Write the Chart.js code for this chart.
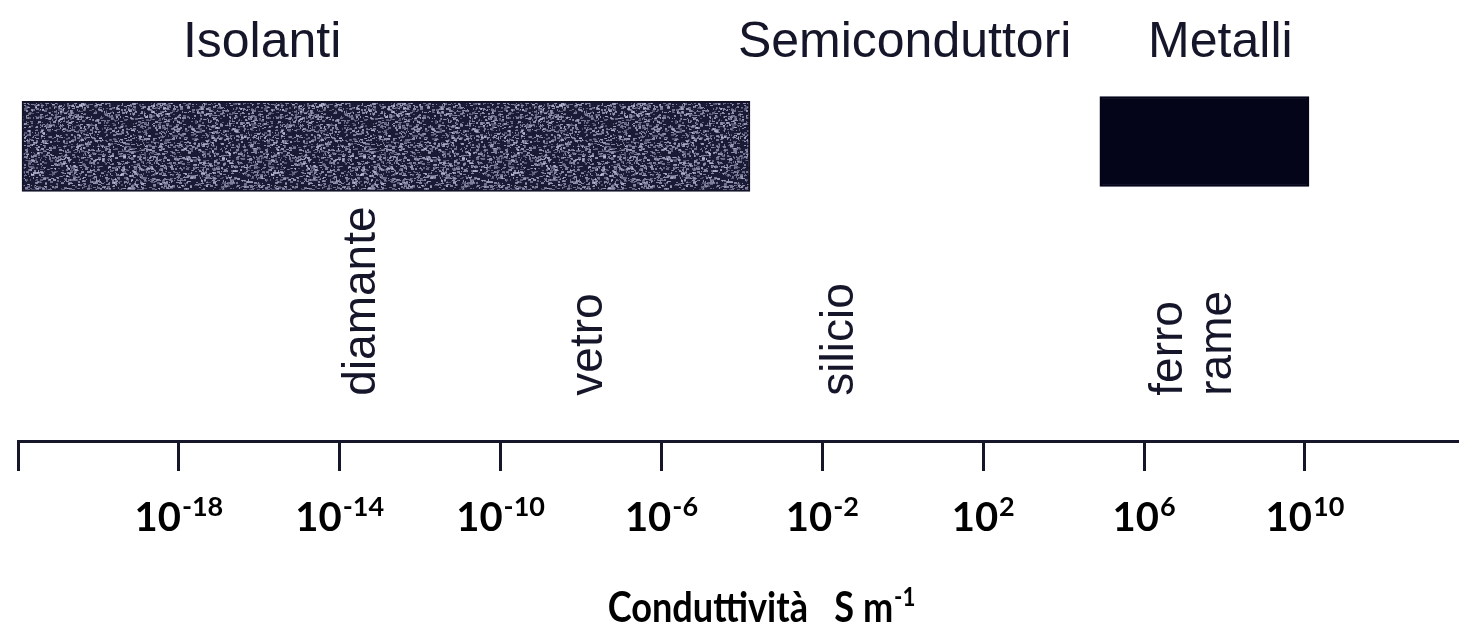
<!DOCTYPE html>
<html>
<head>
<meta charset="utf-8">
<script src="https://cdn.jsdelivr.net/npm/chart.js@4.4.1/dist/chart.umd.min.js"></script>
<style>
  html, body { margin: 0; padding: 0; background: #fff; }
  canvas { display: block; }
</style>
</head>
<body>
<canvas id="chart" width="1459" height="636"></canvas>
<script>
// Values are log10 of the conductivity (S/m)
const tickExponents = [-22, -18, -14, -10, -6, -2, 2, 6, 10];
const tickLabels = ['', '-18', '-14', '-10', '-6', '-2', '2', '6', '10'];
const bandNames = ['Isolanti', 'Metalli'];
const bandStart = [-21.9, 4.9];
const bandEnd = [-3.8, 10.1];
const classNames = ['Isolanti', 'Semiconduttori', 'Metalli'];
const classStart = [-17.9, -4.1, 6.1];
const materials = ['diamante', 'vetro', 'silicio', 'ferro', 'rame'];
const materialValues = [-13.45, -7.8, -1.55, 6.62, 7.85];
const axisTitle = 'Conduttività   S m';
const axisTitleExp = '-1';

// layout (fractions of the plot height, top = 0)
const BAND_ROW = [0.315, 0.303];
const CLASS_ROW = 0.092;
const MATERIAL_ROW = 0.937;
const INK = '#16162a';
const SANS = '"Liberation Sans", Arial, sans-serif';
const BOLD = 'Lato, "Open Sans", sans-serif';

// grainy fill like the scanned bar
function speckle(){
  const c = document.createElement('canvas');
  c.width = 240; c.height = 100;
  const g = c.getContext('2d');
  g.fillStyle = '#1a1a34';
  g.fillRect(0, 0, 240, 100);
  let s = 12345;
  const rnd = () => (s = (s * 16807) % 2147483647) / 2147483647;
  for (let i = 0; i < 4200; i++){
    const v = 95 + Math.floor(rnd() * 110);
    g.fillStyle = `rgba(${v},${v},${v + 30},0.7)`;
    g.fillRect(Math.floor(rnd() * 240), Math.floor(rnd() * 100), 1 + Math.floor(rnd() * 3), 1 + Math.floor(rnd() * 2));
  }
  return g.createPattern(c, 'repeat');
}

// base text with a superscript; sx squeezes it a little
function drawPower(ctx, base, exp, cx, baseline, size, sx, expRatio){
  const expSize = Math.round(size * expRatio);
  ctx.font = `bold ${size}px ${BOLD}`;
  const w1 = ctx.measureText(base).width;
  ctx.font = `bold ${expSize}px ${BOLD}`;
  const w2 = ctx.measureText(exp).width;
  const w = (w1 + 1 + w2) * sx;
  ctx.save();
  ctx.translate(cx - w / 2, baseline);
  ctx.scale(sx, 1);
  ctx.textAlign = 'left';
  ctx.textBaseline = 'alphabetic';
  ctx.font = `bold ${size}px ${BOLD}`;
  ctx.fillText(base, 0, 0);
  ctx.font = `bold ${expSize}px ${BOLD}`;
  ctx.fillText(exp, w1 + 1, -size * 0.38);
  ctx.restore();
}

const textPlugin = {
  id: 'texts',
  afterDraw(chart){
    const ctx = chart.ctx;
    const x = chart.scales.x, y = chart.scales.y;
    ctx.save();
    ctx.fillStyle = INK;

    // class names above the bars
    ctx.font = `50px ${SANS}`;
    ctx.textAlign = 'left';
    ctx.textBaseline = 'alphabetic';
    classNames.forEach((n, i) => ctx.fillText(n, x.getPixelForValue(classStart[i]), y.getPixelForValue(CLASS_ROW)));

    // material names, rotated
    ctx.font = `46px ${SANS}`;
    ctx.textBaseline = 'middle';
    materials.forEach((m, i) => {
      ctx.save();
      ctx.translate(x.getPixelForValue(materialValues[i]), y.getPixelForValue(MATERIAL_ROW));
      ctx.rotate(-Math.PI / 2);
      ctx.fillText(m, 0, 0);
      ctx.restore();
    });

    // tick labels 10^n
    ctx.fillStyle = '#000';
    x.ticks.forEach((t, i) => {
      if (!tickLabels[i]) return;
      drawPower(ctx, '10', tickLabels[i], x.getPixelForValue(t.value), x.top + 90, 40, 1, 0.68);
    });

    // axis title
    drawPower(ctx, axisTitle, axisTitleExp, chart.width / 2 + 32, x.top + 181, 42, 0.86, 0.62);
    ctx.restore();
  }
};

const ctx = document.getElementById('chart').getContext('2d');
new Chart(ctx, {
  type: 'bar',
  data: {
    labels: bandNames,
    datasets: [{
      data: bandNames.map((n, i) => ({ x: [bandStart[i], bandEnd[i]], y: BAND_ROW[i] })),
      backgroundColor: [speckle(), '#05051a'],
      borderColor: ['#121228', '#05051a'],
      borderWidth: 2,
      borderSkipped: false,
      barThickness: 90
    }]
  },
  options: {
    indexAxis: 'y',
    responsive: false,
    devicePixelRatio: 1,
    animation: false,
    layout: { padding: { left: 18, right: 0, top: 0, bottom: 165 } },
    plugins: { legend: { display: false }, tooltip: { enabled: false } },
    scales: {
      x: {
        type: 'linear',
        min: -22,
        max: 13.83,
        afterBuildTicks: s => { s.ticks = tickExponents.map(v => ({ value: v })); },
        ticks: { display: false },
        grid: { drawOnChartArea: false, drawTicks: true, tickLength: 30, lineWidth: 3, color: INK },
        border: { display: true, width: 3, color: INK }
      },
      y: {
        type: 'linear',
        display: false,
        reverse: true,
        min: 0,
        max: 1
      }
    }
  },
  plugins: [textPlugin]
});
</script>
</body>
</html>
